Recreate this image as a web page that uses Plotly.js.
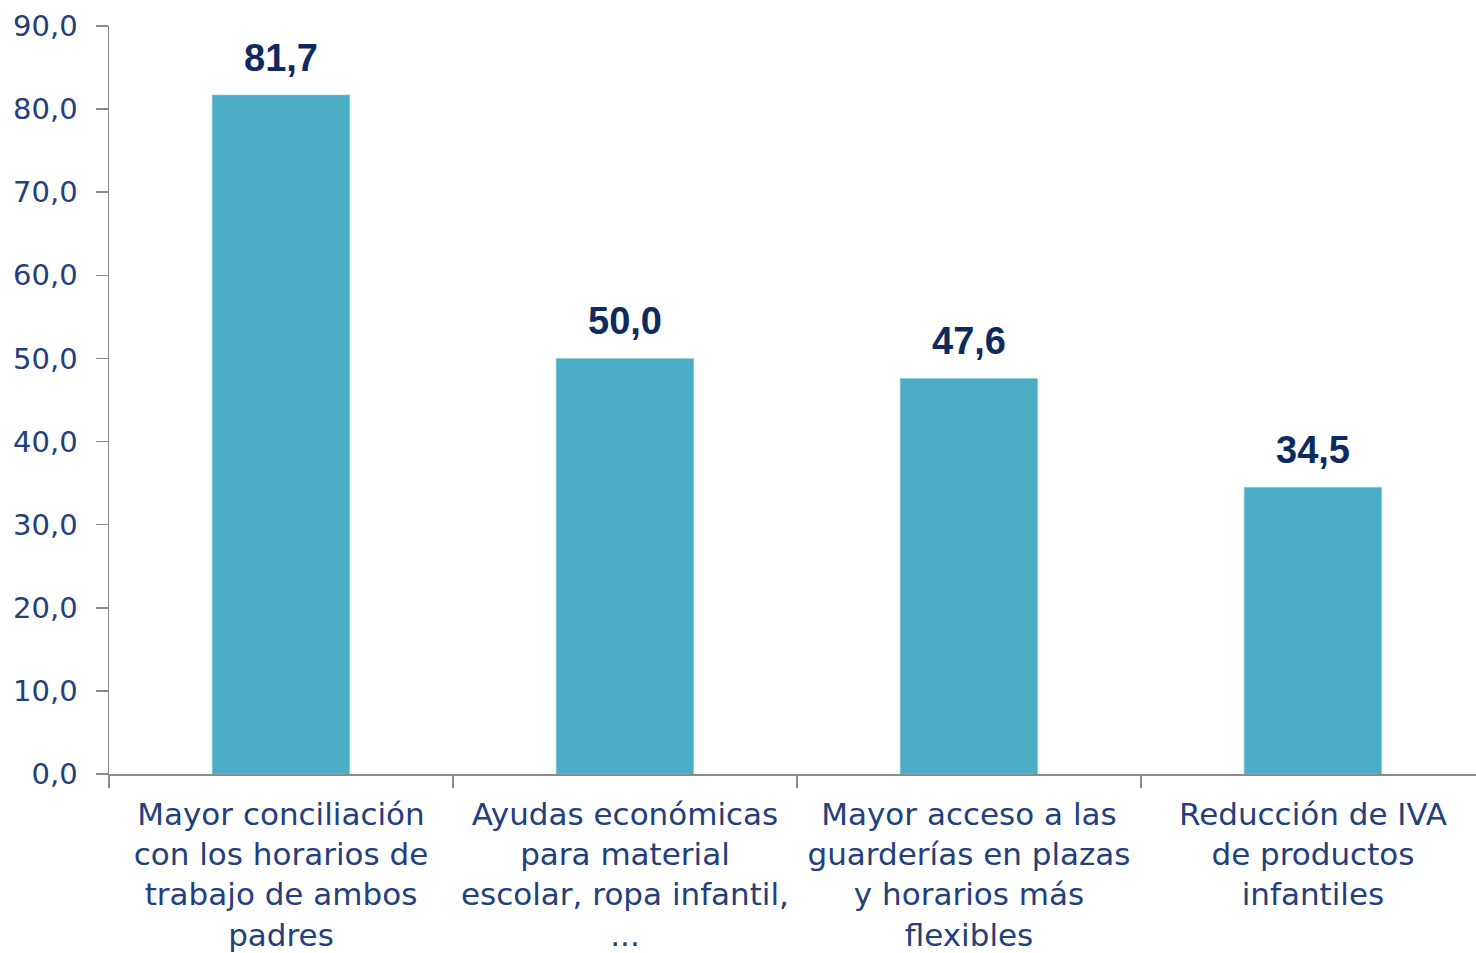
<!DOCTYPE html>
<html>
<head>
<meta charset="utf-8">
<script src="https://cdn.plot.ly/plotly-3.0.1.min.js"></script>
<style>html,body{margin:0;padding:0;background:#fff;}#chart{width:1476px;height:953px;}</style>
</head>
<body>
<div id="chart"></div>
<script>
const categories = [
  "Mayor conciliación<br>con los horarios de<br>trabajo de ambos<br>padres",
  "Ayudas económicas<br>para material<br>escolar, ropa infantil,<br>...",
  "Mayor acceso a las<br>guarderías en plazas<br>y horarios más<br>flexibles",
  "Reducción de IVA<br>de productos<br>infantiles"
];
const values = [81.7, 50.0, 47.6, 34.5];
const yTicks = [0, 10, 20, 30, 40, 50, 60, 70, 80, 90];

const trace = {
  type: "bar",
  x: categories,
  y: values,
  width: 0.4,
  marker: {color: "#4BACC6", line: {color: "#8fd0e0", width: 0.6}},
  hoverinfo: "none"
};

const annotations = values.map((v, i) => ({
  x: categories[i], y: v, xref: "x", yref: "y",
  text: "<b>" + v.toFixed(1).replace(".", ",") + "</b>",
  showarrow: false, yanchor: "bottom", yshift: 14,
  font: {family: "Liberation Sans, Arial, sans-serif", size: 38, color: "#0E2A5E"}
}));

const layout = {
  width: 1476, height: 953,
  margin: {l: 109, r: 0, t: 26, b: 179},
  paper_bgcolor: "#ffffff", plot_bgcolor: "#ffffff",
  separators: ",.",
  showlegend: false,
  annotations: annotations,
  xaxis: {
    type: "category",
    range: [-0.5, 3.474],
    showline: true, linecolor: "#8a8a8a", linewidth: 1.5,
    ticks: "outside", ticklen: 12, tickcolor: "#8a8a8a", tickwidth: 1.5,
    tickson: "boundaries",
    ticklabelstandoff: 12,
    showgrid: false, zeroline: false,
    tickfont: {family: "DejaVu Sans, sans-serif", size: 31, color: "#23407A"}
  },
  yaxis: {
    range: [0, 90],
    tickvals: yTicks,
    tickformat: ".1f",
    showline: true, linecolor: "#8a8a8a", linewidth: 1.5,
    ticks: "outside", ticklen: 12, tickcolor: "#8a8a8a", tickwidth: 1.5,
    showgrid: false, zeroline: false,
    ticklabelstandoff: 12,
    tickfont: {family: "DejaVu Sans, sans-serif", size: 29, color: "#23407A"}
  }
};

Plotly.newPlot("chart", [trace], layout, {displayModeBar: false, staticPlot: true});
</script>
</body>
</html>
